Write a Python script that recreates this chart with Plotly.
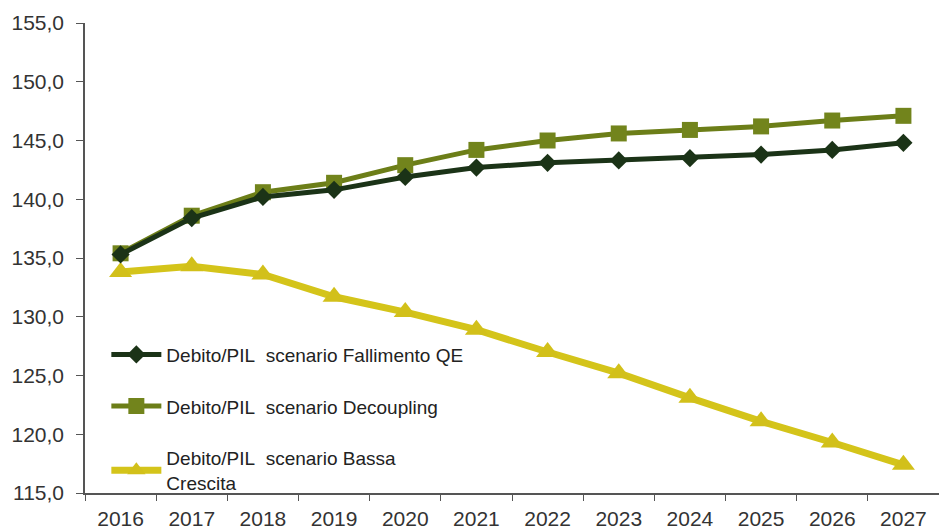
import plotly.graph_objects as go

# Data
years = ["2016", "2017", "2018", "2019", "2020", "2021",
         "2022", "2023", "2024", "2025", "2026", "2027"]
fallimento_qe = [135.3, 138.4, 140.2, 140.8, 141.9, 142.7, 143.1, 143.3, 143.5, 143.8, 144.2, 144.8]
decoupling = [135.4, 138.6, 140.6, 141.4, 142.9, 144.2, 145.0, 145.6, 145.9, 146.2, 146.7, 147.1]
bassa_crescita = [133.8, 134.3, 133.6, 131.7, 130.4, 128.9, 127.0, 125.2, 123.1, 121.1, 119.3, 117.4]
y_ticks = [115, 120, 125, 130, 135, 140, 145, 150, 155]

sp = "\u00a0"
names = [
    f"Debito/PIL{sp}{sp}scenario Fallimento QE",
    f"Debito/PIL{sp}{sp}scenario Decoupling",
    f"Debito/PIL{sp}{sp}scenario Bassa<br>Crescita",
]

fig = go.Figure()

# yellow drawn first so the green lines sit on top; legendrank keeps the order
fig.add_trace(go.Scatter(
    x=years, y=bassa_crescita, name=names[2], mode="lines+markers",
    line=dict(color="#d4c41a", width=7),
    marker=dict(symbol="triangle-up", size=20, color="#d2c01a"),
    legendgroup="c", legendrank=3,
))
fig.add_trace(go.Scatter(
    x=years, y=decoupling, name=names[1], mode="lines+markers",
    line=dict(color="#6c7e18", width=5),
    marker=dict(symbol="square", size=16, color="#72841c"),
    legendgroup="b", legendrank=2,
))
fig.add_trace(go.Scatter(
    x=years, y=fallimento_qe, name=names[0], mode="lines+markers",
    line=dict(color="#1b3317", width=5),
    marker=dict(symbol="diamond", size=14, color="#1b3317"),
    legendgroup="a", legendrank=1,
))

fig.update_layout(
    width=939, height=530,
    margin=dict(l=85, r=0, t=23, b=37),
    paper_bgcolor="white", plot_bgcolor="white",
    separators=",.",
    font=dict(family="Liberation Sans, Arial, sans-serif", size=21, color="#333333"),
    showlegend=True,
    legend=dict(
        x=0.025, y=0.335, xanchor="left", yanchor="top",
        bgcolor="rgba(0,0,0,0)", font=dict(size=19, color="#222222"),
        itemwidth=50, tracegroupgap=24, traceorder="grouped",
    ),
)

fig.update_xaxes(
    type="category", range=[-0.5, 11.5], tickson="boundaries",
    ticks="outside", ticklen=6, ticklabelstandoff=6,
    tickcolor="#555555", showline=True, linecolor="#555555", linewidth=1.5,
    showgrid=False, zeroline=False, automargin=False,
)
fig.update_yaxes(
    range=[115, 155], tickvals=y_ticks, tickformat=".1f",
    ticks="outside", ticklen=7, ticklabelstandoff=8, tickcolor="#555555",
    showline=True, linecolor="#555555", linewidth=1.5,
    showgrid=False, zeroline=False, automargin=False,
)

# page body has a default 8px margin; drop it so the figure fills the window
fig.write_html(
    "out.html",
    config={"displayModeBar": False},
    post_script="document.body.style.margin='0';document.body.style.overflow='hidden';",
)
